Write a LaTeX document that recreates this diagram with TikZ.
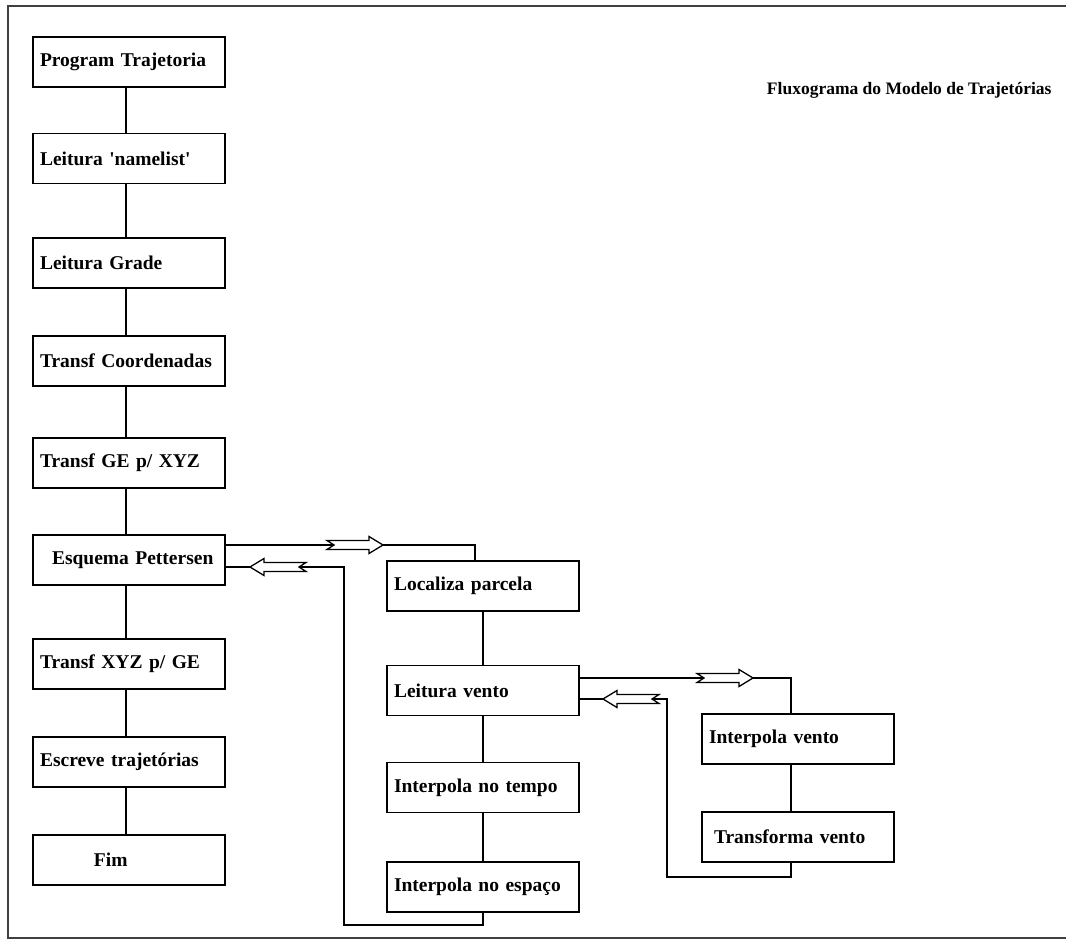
\documentclass[tikz,border=0pt]{standalone}
\usepackage{fontspec}
\setmainfont{Liberation Serif}
\usepackage{tikz}
\usepackage{xcolor}

\tikzset{
  caixa/.style={draw, black, line width=1.2pt, minimum width=192pt, minimum height=50pt,
                text width=178pt, inner sep=0pt, align=left,
                font=\bfseries\fontsize{19.5}{21}\selectfont},
  liga/.style={black, line width=1.8pt},
  seta/.pic={
    \draw[black, line width=1.3pt, fill=white]
      (-56,-4.5) -- (-14,-4.5) -- (-14,-8.5) -- (0,0) -- (-14,8.5) -- (-14,4.5) -- (-56,4.5) -- (-49,0) -- cycle;
  }
}

\begin{document}
\begin{tikzpicture}[x=1pt, y=-1pt]
                \useasboundingbox (0,0) rectangle (1066,941);

                %% moldura
                \draw[black!75, line width=1.2pt] (1066,6) -- (8,6) -- (8,938) -- (1066,938);

                \node[anchor=base east, font=\bfseries\fontsize{17.5}{20}\selectfont] (titulo) at (1055,95)
                    {Fluxograma do Modelo de Trajetórias};

                %% programa principal
                \node[caixa] (prog)     at (129,62)    {Program Trajetoria};
                \node[caixa] (namelist) at (129,158.5) {Leitura \textquotesingle namelist\textquotesingle};
                \node[caixa] (grade)    at (129,263)   {Leitura Grade};
                \node[caixa] (coord)    at (129,361)   {Transf Coordenadas};
                \node[caixa] (gexyz)    at (129,463)   {Transf GE p/ XYZ};
                \node[caixa] (pett)     at (129,560)   {\hspace*{12pt}Esquema Pettersen};
                \node[caixa] (xyzge)    at (129,664)   {Transf XYZ p/ GE};
                \node[caixa] (escreve)  at (129,762)   {Escreve trajetórias};
                \node[caixa] (fim)      at (129,860)   {\hspace*{54pt}Fim};

                \foreach \a/\b in {prog/namelist, namelist/grade, grade/coord, coord/gexyz,
                                   gexyz/pett, pett/xyzge, xyzge/escreve, escreve/fim}
                    \draw[liga] ([xshift=-3pt]\a.south) -- ([xshift=-3pt]\b.north);

                %% parcela
                \node[caixa] (loc)    at (483,586)   {Localiza parcela};
                \node[caixa] (lvento) at (483,690.5) {Leitura vento};
                \node[caixa] (tempo)  at (483,787.5) {Interpola no tempo};
                \node[caixa] (espaco) at (483,887)   {Interpola no espaço};

                \foreach \a/\b in {loc/lvento, lvento/tempo, tempo/espaco}
                    \draw[liga] (\a) -- (\b);

                %% vento
                \node[caixa] (ivento) at (798,739) {Interpola vento};
                \node[caixa] (transf) at (798,837) {\hspace*{5pt}Transforma vento};

                \draw[liga] ([xshift=-7pt]ivento.south) -- ([xshift=-7pt]transf.north);

                %% ida e volta Pettersen
                \coordinate (ida1)   at (475,545);
                \coordinate (volta1) at (344,567);
                \coordinate (fundo1) at (344,925);
                \draw[liga] (pett.east |- ida1) -- (ida1) -- (ida1 |- loc.north);
                \draw[liga] (espaco.south) -- (espaco.south |- fundo1) -- (fundo1) -- (volta1) -- (pett.east |- volta1);
                \pic at (383,545) {seta};
                \pic[rotate=180] at (250,567) {seta};

                %% ida e volta vento
                \coordinate (ida2)   at (791,678);
                \coordinate (volta2) at (667,699);
                \coordinate (fundo2) at (667,877);
                \draw[liga] (lvento.east |- ida2) -- (ida2) -- (ida2 |- ivento.north);
                \draw[liga] ([xshift=-7pt]transf.south) -- ([xshift=-7pt]transf.south |- fundo2) -- (fundo2) -- (volta2) -- (lvento.east |- volta2);
                \pic at (753,678) {seta};
                \pic[rotate=180] at (603,699) {seta};

            \end{tikzpicture}
\end{document}
